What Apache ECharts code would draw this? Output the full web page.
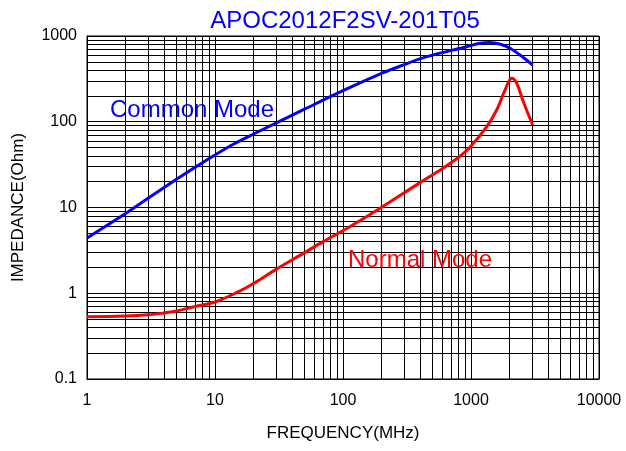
<!DOCTYPE html>
<html>
<head>
<meta charset="utf-8">
<script src="https://cdn.jsdelivr.net/npm/echarts@6/dist/echarts.min.js"></script>
<style>
html,body{margin:0;padding:0;background:#fff;}
#chart{width:626px;height:451px;}
</style>
</head>
<body>
<div id="chart"></div>
<script>
var title = 'APOC2012F2SV-201T05';
var xTicks = [1, 10, 100, 1000, 10000];
var yTicks = [0.1, 1, 10, 100, 1000];
var commonMode = [
  [1, 4.4], [2, 8.5], [3, 12.8], [5, 21.3], [7, 29.5], [10, 41], [14, 55], [20, 72],
  [50, 140], [100, 230], [206, 373], [279, 445], [451, 574], [925, 750], [1176, 822],
  [1407, 838], [1700, 800], [2018, 719], [2415, 600], [3034, 459]
];
var normalMode = [
  [1, 0.533], [2, 0.543], [3, 0.56], [4, 0.59], [5, 0.62], [7, 0.70], [10, 0.79],
  [15, 1.03], [20, 1.3], [30, 1.9], [49, 2.92], [70, 4.0], [113, 5.97], [195, 9.8],
  [400, 19.5], [600, 28.5], [800, 38.5], [982, 50.3], [1327, 87.5], [1587, 137],
  [1844, 234], [2080, 321], [2274, 281], [2564, 171], [3034, 91.6]
];

var minorX = [], minorY = [];
for (var d = 0; d < xTicks.length - 1; d++) {
  for (var k = 2; k <= 9; k++) minorX.push({xAxis: xTicks[d] * k});
}
for (var d2 = 0; d2 < yTicks.length - 1; d2++) {
  for (var k2 = 2; k2 <= 9; k2++) minorY.push({yAxis: +(yTicks[d2] * k2).toPrecision(3)});
}

var chart = echarts.init(document.getElementById('chart'));
var font = 'Liberation Sans, Arial, sans-serif';
chart.setOption({
  animation: false,
  backgroundColor: '#fff',
  title: {
    text: title, left: 340, top: 4, textAlign: 'center',
    textStyle: {color: '#0000ff', fontSize: 24, fontWeight: 'normal', fontFamily: font}
  },
  grid: {left: 87, right: 27, top: 36, bottom: 72, show: true, borderColor: '#000', borderWidth: 1},
  xAxis: {
    type: 'log', logBase: 10, min: 1, max: 10000,
    name: 'FREQUENCY(MHz)', nameLocation: 'middle', nameGap: 46,
    nameTextStyle: {color: '#000', fontSize: 17, fontFamily: font},
    axisLine: {show: true, lineStyle: {color: '#000', width: 1}},
    axisTick: {show: false},
    axisLabel: {color: '#000', fontSize: 16, fontFamily: font, margin: 14,
      formatter: function (v) { return String(v); }},
    splitLine: {show: true, lineStyle: {color: '#000', width: 1}}
  },
  yAxis: {
    type: 'log', logBase: 10, min: 0.1, max: 1000,
    name: 'IMPEDANCE(Ohm)', nameLocation: 'middle', nameGap: 60,
    nameTextStyle: {color: '#000', fontSize: 17, fontFamily: font},
    axisLine: {show: true, lineStyle: {color: '#000', width: 1}},
    axisTick: {show: false},
    axisLabel: {color: '#000', fontSize: 16, fontFamily: font, margin: 10,
      formatter: function (v) { return String(+v.toPrecision(3)); }},
    splitLine: {show: true, lineStyle: {color: '#000', width: 1}}
  },
  series: [
    {
      type: 'line', name: 'grid', data: [], silent: true,
      markLine: {
        silent: true, symbol: 'none', animation: false,
        label: {show: false},
        lineStyle: {color: '#000', width: 1, type: 'solid'},
        emphasis: {disabled: true},
        data: minorX.concat(minorY)
      }
    },
    {
      type: 'line', name: 'Common Mode', data: commonMode, showSymbol: false,
      smooth: 0.35,
      lineStyle: {color: '#0000ff', width: 3}, z: 5
    },
    {
      type: 'line', name: 'Normal Mode', data: normalMode, showSymbol: false,
      smooth: 0.35,
      lineStyle: {color: '#ff0000', width: 3}, z: 5
    }
  ],
  graphic: [
    {type: 'text', left: 110, top: 98, z: 10,
      style: {text: 'Common Mode', fill: '#0000ff', fontSize: 24, fontFamily: font}},
    {type: 'text', left: 348, top: 248, z: 10,
      style: {text: 'Normal Mode', fill: '#ff0000', fontSize: 24, fontFamily: font}}
  ]
});
</script>
</body>
</html>
